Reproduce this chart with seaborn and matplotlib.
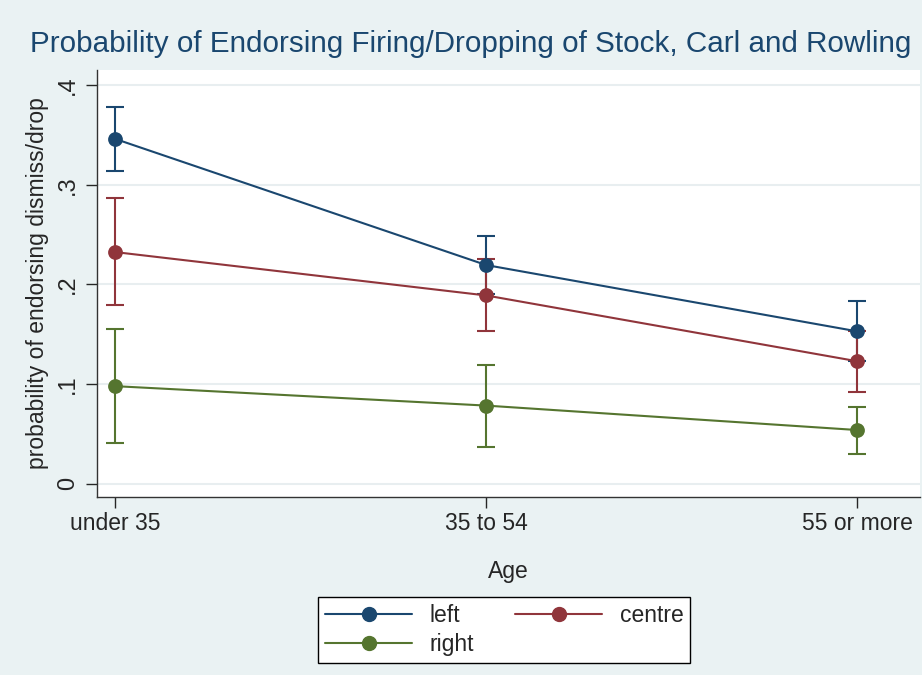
import pandas as pd
import matplotlib.pyplot as plt
import seaborn as sns
from matplotlib.lines import Line2D

# --- datos ---
ages = ['under 35', '35 to 54', '55 or more']
groups = ['left', 'centre', 'right']
prob_left = [0.346, 0.2195, 0.153]
prob_centre = [0.2325, 0.189, 0.123]
prob_right = [0.098, 0.0785, 0.054]
lo_left = [0.314, 0.190, 0.123]
hi_left = [0.378, 0.249, 0.183]
lo_centre = [0.179, 0.153, 0.092]
hi_centre = [0.287, 0.2256, 0.153]
lo_right = [0.041, 0.037, 0.030]
hi_right = [0.155, 0.119, 0.0775]

colores = {'left': '#1a476f', 'centre': '#90353b', 'right': '#55752f'}
fondo = '#eaf2f3'

df = pd.DataFrame({
    'Age': ages * 3,
    'grupo': [g for g in groups for _ in ages],
    'prob': prob_left + prob_centre + prob_right,
    'lo': lo_left + lo_centre + lo_right,
    'hi': hi_left + hi_centre + hi_right,
})

sns.set_style('white')
plt.rcParams['font.family'] = ['Liberation Sans', 'DejaVu Sans']

fig = plt.figure(figsize=(9.22, 6.75), dpi=100, facecolor=fondo)
ax = fig.add_axes([0.105, 0.264, 0.893, 0.632])
ax.set_facecolor('white')

# intervalos de confianza
for g in groups:
    d = df[df['grupo'] == g]
    x = range(len(d))
    ax.errorbar(x, d['prob'], yerr=[d['prob'] - d['lo'], d['hi'] - d['prob']],
                fmt='none', ecolor=colores[g], elinewidth=1.5, capsize=6.5, capthick=1.5,
                zorder=2)

sns.pointplot(data=df, x='Age', y='prob', hue='grupo', hue_order=groups,
              palette=colores, errorbar=None, markers='o', markersize=9.5,
              linewidth=1.5, ax=ax, legend=False)

ax.set_xlim(-0.05, 2.17)
ax.set_ylim(-0.013, 0.415)
ax.set_yticks([0, 0.1, 0.2, 0.3, 0.4])
ax.set_yticklabels(['0', '.1', '.2', '.3', '.4'], rotation=90, va='center', fontsize=17)
ax.tick_params(axis='x', labelsize=16.5, length=8, width=1, direction='out', bottom=True, pad=3)
ax.tick_params(axis='y', length=8, width=1, direction='out', left=True, pad=5)
ax.grid(axis='y', color='#e8eef0', linewidth=1.5)
for s in ['top', 'right']:
    ax.spines[s].set_visible(False)
for s in ['left', 'bottom']:
    ax.spines[s].set_color('#333333')
    ax.spines[s].set_linewidth(1)

ax.set_xlabel('Age', fontsize=16.5, labelpad=18)
ax.set_ylabel('probability of endorsing dismiss/drop', fontsize=16.5)
ax.yaxis.set_label_coords(-0.058, 0.5)
fig.suptitle('Probability of Endorsing Firing/Dropping of Stock, Carl and Rowling',
             x=0.511, y=0.955, fontsize=21.3, color='#1a476f')

# orden por columnas: left, right | centre
orden = ['left', 'right', 'centre']
handles = [Line2D([], [], color=colores[g], marker='o', markersize=10, linewidth=1.5)
           for g in orden]
leg = fig.legend(handles, orden, loc='center', bbox_to_anchor=(0.547, 0.0667),
                 ncol=2, fontsize=16.5, frameon=True, fancybox=False, framealpha=1,
                 handlelength=3.8, columnspacing=1.8, handletextpad=0.75,
                 borderpad=0.3, labelspacing=0.3, borderaxespad=0)
leg.get_frame().set_edgecolor('black')
leg.get_frame().set_linewidth(1)
leg.get_frame().set_facecolor('white')

fig.savefig('out.png', dpi=100, facecolor=fondo)
